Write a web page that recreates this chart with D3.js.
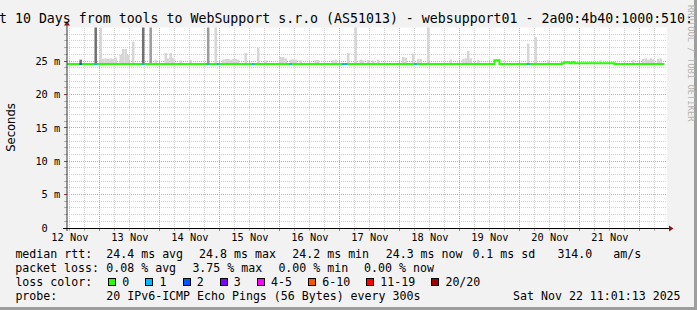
<!DOCTYPE html>
<html><head><meta charset="utf-8">
<script src="https://cdn.jsdelivr.net/npm/d3@7"></script>
<style>html,body{margin:0;padding:0;background:#f2f2f2;overflow:hidden}svg{display:block}</style>
</head><body><svg id="c" width="697" height="310"></svg>
<script>
// ---------------- data ----------------
const titleText = "t 10 Days from tools to WebSupport s.r.o (AS51013) - websupport01 - 2a00:4b40:1000:510:";
const startTime = new Date(2025, 10, 12, 11, 1, 13);
const endTime = new Date(2025, 10, 22, 11, 1, 13);
const xTickLabels = ["12 Nov","13 Nov","14 Nov","15 Nov","16 Nov","17 Nov","18 Nov","19 Nov","20 Nov","21 Nov"];
const yTickValues = [0, 5, 10, 15, 20, 25];
const yTickLabels = ["0", "5 m", "10 m", "15 m", "20 m", "25 m"];
// median rtt (ms) as steps: [hour offset from 12 Nov 00:00, value]
const medianSteps = [[11,24.55],[182,25.1],[184,24.55],[209,24.65],[210,24.8],[212,24.65],[213,24.8],[214,24.65],[230,24.55]];
const lastHour = 250;
// hourly bins with packet loss: [hour, loss class index]
const lossBins = [[16,2],[22,1],[41,1],[67,1],[71,1],[85,1],[100,1],[121,1],[122,1],[150,1],[195,1]];
// smoke: [hour, highest ping (ms), density 1 light .. 3 dark]
const smokeBins = [
 [16,25.2,3],[22,31,3],[24,31,1],[25,25.35,1],[26,25.4,1],[27,25.3,1],[28,25.4,1],[29,25.3,1],
 [30,25.5,1],[32,25.9,1],[33,26.8,1],[34,26.8,1],[35,25.9,1],[37,27.9,1],[41,31,3],[44,31,2],
 [46,25.2,1],[50,26.2,1],[51,25.4,1],[52,26.2,1],[53,25.4,1],[56,25.1,1],[60,25.15,1],
 [67,31,2],[70,31,1],[73,25.2,1],[74,25.3,1],[75,25.3,1],[76,25.2,1],[77,25.3,1],[78,25.3,1],[79,25.2,1],
 [82,26.2,1],[87,27.0,1],[90,25.1,1],[96,25.6,1],[97,25.6,1],[98,25.4,1],[100,25.2,1],[101,25.25,1],[102,25.2,1],
 [104,25.1,1],[110,25.15,1],[111,25.15,1],[117,25.1,1],[118,25.2,1],[123,26.2,1],[126,31,1],
 [128,25.2,1],[129,25.1,1],[131,25.15,1],[133,25.1,1],[135,25.2,1],[145,25.6,1],[146,25.5,1],
 [149,26.1,1],[151,25.3,1],[152,25.3,1],[155,31,1],[164,25.2,1],[169,25.3,1],[170,25.4,1],[171,26.5,1],[172,25.4,1],
 [175,25.15,1],[195,27.6,1],[198,28.6,1],[203,25.1,1],[224,25.1,1],[237,25.15,1],
 [241,25.3,1],[242,25.4,1],[243,25.2,1],[244,25.4,1],[245,25.25,1],[247,25.3,1],[248,25.4,1]
];
const lossLabels = ["0","1","2","3","4-5","6-10","11-19","20/20"];
const lossColors = ["#26ff00","#00b8ff","#0059ff","#7e00ff","#ff00ff","#ff5500","#ff0000","#a10000"];
const legendRtt = [["median rtt:"],["24.4 ms avg"],["24.8 ms max"],["24.2 ms min"],["24.3 ms now"],["0.1 ms sd"],["314.0"],["am/s"]];
const legendLoss = [["packet loss:"],["0.08 % avg"],["3.75 % max"],["0.00 % min"],["0.00 % now"]];
const probeText = "20 IPv6-ICMP Echo Pings (56 Bytes) every 300s";
const dateText = "Sat Nov 22 11:01:13 2025";

// ---------------- drawing ----------------
const svg = d3.select("#c");
const P = {l:67, r:667, t:27.6, b:228};
const MONO = "DejaVu Sans Mono";
const base = new Date(2025, 10, 12, 0, 0, 0);
const hd = h => new Date(base.getTime() + h * 3600e3);
const x = d3.scaleTime().domain([startTime, endTime]).range([P.l, P.r]);
const y = d3.scaleLinear().domain([0, 30]).range([P.b, P.t]);
const medianAt = h => { let v = medianSteps[0][1]; for (const s of medianSteps) if (s[0] <= h) v = s[1]; return v; };

// background + border
svg.append("rect").attr("width",697).attr("height",310).attr("fill","#f2f2f2");
svg.append("rect").attr("x",694).attr("y",0).attr("width",3).attr("height",310).attr("fill","#9e9e9e");
svg.append("rect").attr("x",0).attr("y",307).attr("width",697).attr("height",3).attr("fill","#9e9e9e");
svg.append("rect").attr("x",P.l).attr("y",P.t).attr("width",P.r-P.l).attr("height",P.b-P.t).attr("fill","#ffffff");

svg.append("defs").append("clipPath").attr("id","cp").append("rect")
  .attr("x",P.l).attr("y",P.t).attr("width",P.r-P.l).attr("height",P.b-P.t);

// grid
const g = svg.append("g");
const px = v => Math.floor(v) + 0.5;
d3.range(1, 30).forEach(v => {
  const major = v % 5 === 0;
  const yy = px(y(v));
  g.append("line").attr("x1",P.l).attr("x2",P.r).attr("y1",yy).attr("y2",yy)
    .attr("stroke", major ? "#f19a9a" : "#d0d0d0").attr("stroke-dasharray","1,1").attr("shape-rendering","crispEdges");
  g.append("line").attr("x1",P.l-3).attr("x2",P.l).attr("y1",yy).attr("y2",yy)
    .attr("stroke", major ? "#a04040" : "#b0b0b0").attr("shape-rendering","crispEdges");
});
d3.timeHour.every(6).range(startTime, endTime).forEach(d => {
  const major = d.getHours() === 0;
  const xx = px(x(d));
  g.append("line").attr("x1",xx).attr("x2",xx).attr("y1",P.t).attr("y2",P.b)
    .attr("stroke", major ? "#f19a9a" : "#d0d0d0").attr("stroke-dasharray","1,1").attr("shape-rendering","crispEdges");
  g.append("line").attr("x1",xx).attr("x2",xx).attr("y1",P.b).attr("y2",P.b+3)
    .attr("stroke", major ? "#e06060" : "#b0b0b0").attr("shape-rendering","crispEdges");
});

// smoke
const shade = ["", "#d6d6d6", "#9c9c9c", "#707070"];
const plotG = svg.append("g").attr("clip-path","url(#cp)");
plotG.selectAll("rect.smoke").data(smokeBins).enter().append("rect").attr("class","smoke")
  .attr("x", d => x(hd(d[0]))).attr("width", d => x(hd(d[0]+1)) - x(hd(d[0])))
  .attr("y", d => y(d[1])).attr("height", d => y(medianAt(d[0])) - y(d[1]))
  .attr("fill", d => shade[d[2]]);

// median line
const medPts = medianSteps.map(s => ({d: hd(s[0]), v: s[1]}));
medPts.push({d: hd(lastHour), v: medianSteps[medianSteps.length-1][1]});
const line = d3.line().x(d => x(d.d)).y(d => y(d.v)).curve(d3.curveStepAfter);
plotG.append("path").attr("d", line(medPts)).attr("fill","none").attr("stroke",lossColors[0]).attr("stroke-width",2);
plotG.selectAll("path.loss").data(lossBins).enter().append("path").attr("class","loss")
  .attr("d", d => line([{d: hd(d[0]), v: medianAt(d[0])}, {d: hd(d[0]+1), v: medianAt(d[0])}]))
  .attr("fill","none").attr("stroke", d => lossColors[d[1]]).attr("stroke-width",2);

// axes lines & arrows
svg.append("line").attr("x1",P.l).attr("x2",P.l).attr("y1",P.b+3).attr("y2",24).attr("stroke","#333").attr("stroke-width",1);
svg.append("line").attr("x1",P.l-4).attr("x2",670).attr("y1",P.b+0.5).attr("y2",P.b+0.5).attr("stroke","#000").attr("stroke-width",1);
svg.append("path").attr("d",`M${P.l-3},25.5L${P.l+3},25.5L${P.l},21Z`).attr("fill","#8b1414");
svg.append("path").attr("d",`M669,${P.b-2.5}L669,${P.b+3.5}L673.5,${P.b+0.5}Z`).attr("fill","#8b1414");

// axis labels via d3 axes
const noonDates = xTickLabels.map(l => { const d = d3.timeParse("%d %b %Y")(l + " 2025"); return new Date(d.getTime() + 12*3600e3); });
const xa = svg.append("g").attr("transform",`translate(0,${P.b})`)
  .call(d3.axisBottom(x).tickValues(noonDates).tickFormat((d,i) => xTickLabels[i]).tickSize(0).tickPadding(6));
xa.select(".domain").remove();
xa.attr("font-family",MONO).attr("font-size",10.3);
xa.selectAll("text").attr("fill","#000");
const ya = svg.append("g").attr("transform",`translate(${P.l},0)`)
  .call(d3.axisLeft(y).tickValues(yTickValues).tickFormat((d,i) => yTickLabels[i]).tickSize(0).tickPadding(6.8));
ya.select(".domain").remove();
ya.attr("font-family",MONO).attr("font-size",10.3);
ya.selectAll("text").attr("fill","#000")
  .attr("dx", (d,i) => yTickLabels[i].indexOf(" ") < 0 ? -12.4 : 0);

// title (visible portion)
svg.append("text").attr("x",-1).attr("y",23.3).attr("font-family",MONO).attr("font-size",13.26)
  .attr("xml:space","preserve").text(titleText);
// y label
svg.append("text").attr("transform","translate(15,127.5) rotate(-90)").attr("text-anchor","middle")
  .attr("font-family","DejaVu Sans").attr("font-size",11.6).text("Seconds");
// rrdtool watermark
svg.append("text").attr("transform","translate(687.5,5) rotate(90)").attr("font-family",MONO)
  .attr("font-size",8.8).attr("fill","#b4b4b4").text("RRDTOOL / TOBI OETIKER");

// legend
const LF = 11.6;
const leg = svg.append("g").attr("font-family",MONO).attr("font-size",LF).attr("fill","#000");
const rttX = [15.4, 106.3, 199.1, 292.3, 385.7, 472.4, 557.4, 613.3];
legendRtt.forEach((t,i) => leg.append("text").attr("x",rttX[i]).attr("y",257.5).text(t[0]));
const lossX = [15.2, 106.3, 192.4, 278.4, 364.1];
legendLoss.forEach((t,i) => leg.append("text").attr("x",lossX[i]).attr("y",271.5).text(t[0]));
leg.append("text").attr("x",15.4).attr("y",285.5).text("loss color:");
let cx = 108.3;
lossLabels.forEach((l,i) => {
  leg.append("rect").attr("x",Math.round(cx)+0.5).attr("y",278.5).attr("width",7).attr("height",7)
    .attr("fill",lossColors[i]).attr("stroke","#000").attr("stroke-width",1);
  const t = leg.append("text").attr("x",cx+14).attr("y",285.5).text(l);
  cx += 14 + t.node().getComputedTextLength() + 16.2;
});
leg.append("text").attr("x",15.4).attr("y",299.5).text("probe:");
leg.append("text").attr("x",106.3).attr("y",299.5).text(probeText);
leg.append("text").attr("x",680.6).attr("y",299.5).attr("text-anchor","end").text(dateText);
</script></body></html>
